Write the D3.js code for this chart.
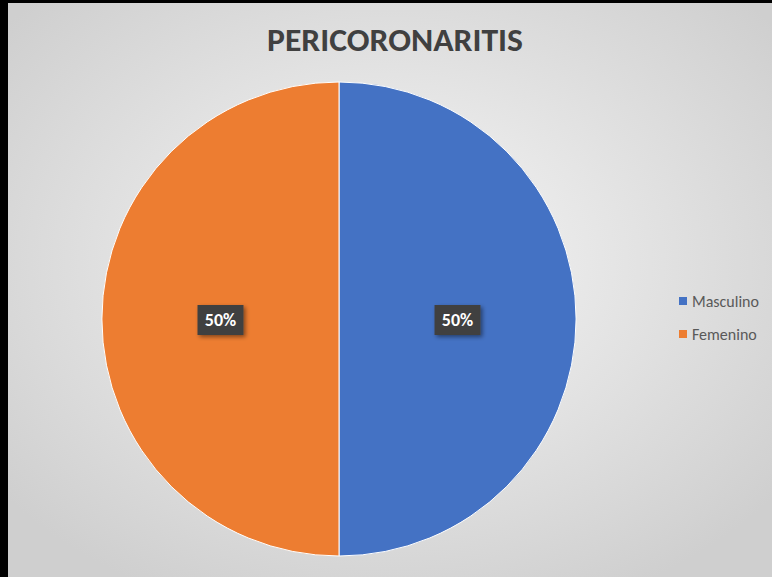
<!DOCTYPE html>
<html><head><meta charset="utf-8">
<script src="https://cdn.jsdelivr.net/npm/d3@7"></script>
<style>html,body{margin:0;padding:0;background:#000;overflow:hidden}</style>
</head><body>
<svg id="c" width="772" height="577"></svg>
<script>
const categories = ["Masculino", "Femenino"];
const values = [50, 50];
const colors = ["#4472C4", "#ED7D31"];
const title = "PERICORONARITIS";

const svg = d3.select("#c");
const W = 772, H = 577;
const defs = svg.append("defs");
const rg = defs.append("radialGradient").attr("id","bg").attr("cx","50%").attr("cy","45%").attr("r","65%");
rg.append("stop").attr("offset","0%").attr("stop-color","#f7f7f7");
rg.append("stop").attr("offset","100%").attr("stop-color","#cfcfcf");
const f = defs.append("filter").attr("id","sh").attr("x","-30%").attr("y","-30%").attr("width","160%").attr("height","170%");
f.append("feDropShadow").attr("dx",2).attr("dy",2).attr("stdDeviation",2).attr("flood-color","#000").attr("flood-opacity",0.45);

svg.append("rect").attr("x",0).attr("y",0).attr("width",W).attr("height",H).attr("fill","#000");
svg.append("rect").attr("x",8).attr("y",3).attr("width",W-8).attr("height",H-3).attr("fill","url(#bg)");

svg.append("text").attr("x",395).attr("y",51).attr("text-anchor","middle")
  .attr("font-family","Carlito, 'Open Sans', 'Liberation Sans', sans-serif").attr("font-weight","bold")
  .attr("font-size",32).attr("fill","#404040")
  .attr("textLength",256).attr("lengthAdjust","spacingAndGlyphs").text(title);

const cx = 339, cy = 319, r = 237;
const pie = d3.pie().sort(null).value(d => d)(values);
const arc = d3.arc().innerRadius(0).outerRadius(r);
const g = svg.append("g").attr("transform",`translate(${cx},${cy})`);
g.selectAll("path").data(pie).join("path")
  .attr("d",arc).attr("fill",(d,i)=>colors[i]).attr("stroke","#ffffff").attr("stroke-width",1);

const total = d3.sum(values);
const lab = d3.arc().innerRadius(r*0.5).outerRadius(r*0.5);
const lg = g.selectAll("g.lab").data(pie).join("g").attr("class","lab")
  .attr("transform",d=>{const [x,y]=lab.centroid(d);return `translate(${x},${y+1})`;});
lg.append("rect").attr("x",-23).attr("y",-15).attr("width",46).attr("height",30)
  .attr("fill","#404040").attr("filter","url(#sh)");
lg.append("text").attr("text-anchor","middle").attr("dy","0.36em")
  .attr("font-family","Carlito, 'Open Sans', sans-serif").attr("font-weight","bold").attr("font-size",18)
  .attr("fill","#ffffff").text(d=>Math.round(d.value/total*100)+"%");

const leg = svg.append("g").selectAll("g").data(categories).join("g")
  .attr("transform",(d,i)=>`translate(679,${301+i*33})`);
leg.append("rect").attr("x",0).attr("y",-4).attr("width",8).attr("height",8).attr("fill",(d,i)=>colors[i]);
leg.append("text").attr("x",13).attr("dy","0.35em")
  .attr("font-family","Carlito, 'Open Sans', sans-serif").attr("font-size",16).attr("fill","#595959").text(d=>d);
</script>
</body></html>
